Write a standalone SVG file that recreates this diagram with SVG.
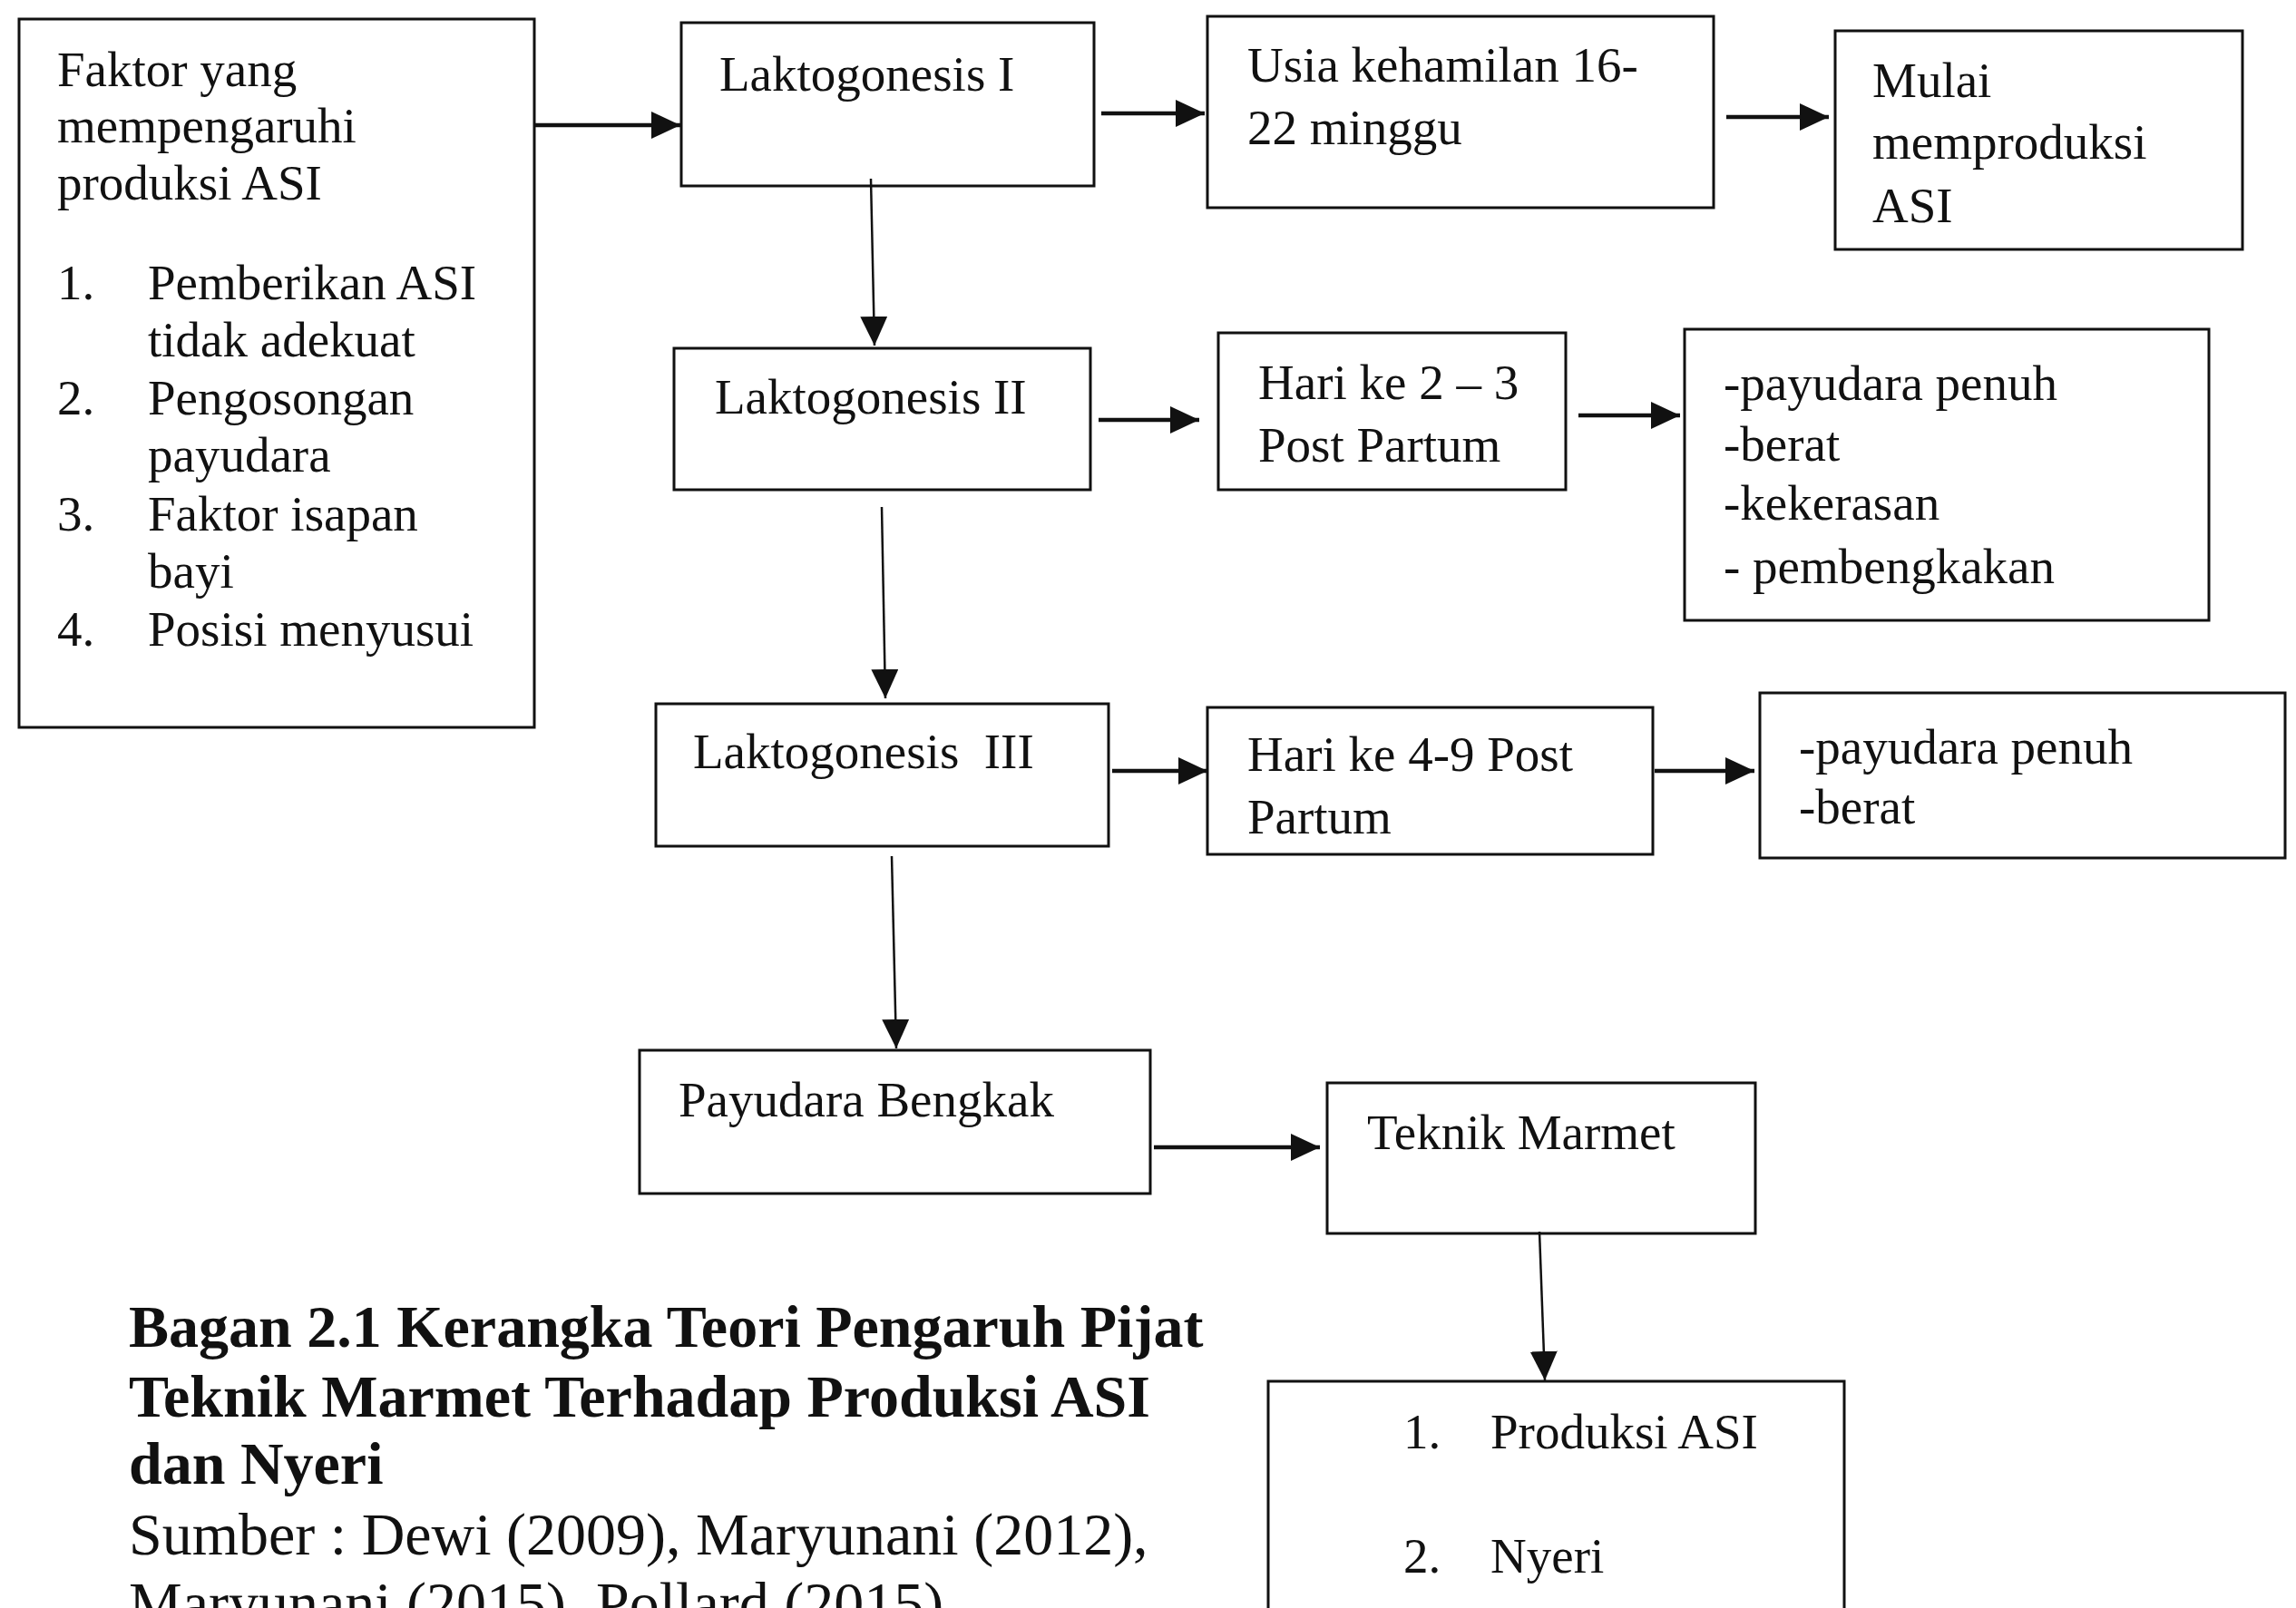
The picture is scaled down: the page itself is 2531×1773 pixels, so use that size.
<svg xmlns="http://www.w3.org/2000/svg" width="2531" height="1773" viewBox="0 0 2531 1773">
<style>
.box{fill:#fff;stroke:#111;stroke-width:3}
.t{font-family:"Liberation Serif","Times New Roman",serif;font-size:55px;fill:#111}
.cap{font-family:"Liberation Serif","Times New Roman",serif;font-size:66px;fill:#111}
.b{font-weight:bold}
.h{stroke:#111;stroke-width:4.5;fill:none}
.v{stroke:#111;stroke-width:2.5;fill:none}
</style>
<defs>
<marker id="ah" markerUnits="userSpaceOnUse" markerWidth="32" markerHeight="30" refX="32" refY="15" orient="auto">
<path d="M0,0 L32,15 L0,30 z" fill="#111"/>
</marker>
</defs>
<rect width="2531" height="1773" fill="#fff"/>
<g id="n-faktor">
<rect class="box" x="21" y="21" width="568" height="781"/>
<text class="t" x="63" y="95">Faktor yang</text>
<text class="t" x="63" y="157">mempengaruhi</text>
<text class="t" x="63" y="220">produksi ASI</text>
<text class="t" x="63" y="330">1.</text><text class="t" x="163" y="330">Pemberikan ASI</text>
<text class="t" x="163" y="393">tidak adekuat</text>
<text class="t" x="63" y="457">2.</text><text class="t" x="163" y="457">Pengosongan</text>
<text class="t" x="163" y="520">payudara</text>
<text class="t" x="63" y="585">3.</text><text class="t" x="163" y="585">Faktor isapan</text>
<text class="t" x="163" y="648">bayi</text>
<text class="t" x="63" y="712">4.</text><text class="t" x="163" y="712">Posisi menyusui</text>
</g>
<g id="n-lakto1">
<rect class="box" x="751" y="25" width="455" height="180"/>
<text class="t" x="793" y="100">Laktogonesis I</text>
</g>
<g id="n-usia">
<rect class="box" x="1331" y="18" width="558" height="211"/>
<text class="t" x="1375" y="90">Usia kehamilan 16-</text>
<text class="t" x="1375" y="159">22 minggu</text>
</g>
<g id="n-mulai">
<rect class="box" x="2023" y="34" width="449" height="241"/>
<text class="t" x="2064" y="107">Mulai</text>
<text class="t" x="2064" y="175">memproduksi</text>
<text class="t" x="2064" y="245">ASI</text>
</g>
<g id="n-lakto2">
<rect class="box" x="743" y="384" width="459" height="156"/>
<text class="t" x="788" y="456">Laktogonesis II</text>
</g>
<g id="n-hari23">
<rect class="box" x="1343" y="367" width="383" height="173"/>
<text class="t" x="1387" y="440">Hari ke 2 – 3</text>
<text class="t" x="1387" y="509">Post Partum</text>
</g>
<g id="n-gejala1">
<rect class="box" x="1857" y="363" width="578" height="321"/>
<text class="t" x="1900" y="441">-payudara penuh</text>
<text class="t" x="1900" y="508">-berat</text>
<text class="t" x="1900" y="573">-kekerasan</text>
<text class="t" x="1900" y="643">- pembengkakan</text>
</g>
<g id="n-lakto3">
<rect class="box" x="723" y="776" width="499" height="157"/>
<text class="t" x="764" y="847" xml:space="preserve">Laktogonesis  III</text>
</g>
<g id="n-hari49">
<rect class="box" x="1331" y="780" width="491" height="162"/>
<text class="t" x="1375" y="850">Hari ke 4-9 Post</text>
<text class="t" x="1375" y="919">Partum</text>
</g>
<g id="n-gejala2">
<rect class="box" x="1940" y="764" width="579" height="182"/>
<text class="t" x="1983" y="842">-payudara penuh</text>
<text class="t" x="1983" y="908">-berat</text>
</g>
<g id="n-bengkak">
<rect class="box" x="705" y="1158" width="563" height="158"/>
<text class="t" x="748" y="1231">Payudara Bengkak</text>
</g>
<g id="n-marmet">
<rect class="box" x="1463" y="1194" width="472" height="166"/>
<text class="t" x="1507" y="1267">Teknik Marmet</text>
</g>
<g id="n-hasil">
<rect class="box" x="1398" y="1523" width="635" height="290"/>
<text class="t" x="1547" y="1597">1.</text><text class="t" x="1643" y="1597">Produksi ASI</text>
<text class="t" x="1547" y="1734">2.</text><text class="t" x="1643" y="1734">Nyeri</text>
</g>
<g id="connectors">
<line class="h" x1="589" y1="138" x2="750" y2="138" marker-end="url(#ah)"/>
<line class="h" x1="1214" y1="125" x2="1328" y2="125" marker-end="url(#ah)"/>
<line class="h" x1="1903" y1="129" x2="2016" y2="129" marker-end="url(#ah)"/>
<line class="v" x1="960" y1="197" x2="964" y2="381" marker-end="url(#ah)"/>
<line class="h" x1="1211" y1="463" x2="1322" y2="463" marker-end="url(#ah)"/>
<line class="h" x1="1740" y1="458" x2="1852" y2="458" marker-end="url(#ah)"/>
<line class="v" x1="972" y1="559" x2="976" y2="770" marker-end="url(#ah)"/>
<line class="h" x1="1226" y1="850" x2="1331" y2="850" marker-end="url(#ah)"/>
<line class="h" x1="1824" y1="850" x2="1934" y2="850" marker-end="url(#ah)"/>
<line class="v" x1="983" y1="944" x2="988" y2="1156" marker-end="url(#ah)"/>
<line class="h" x1="1272" y1="1265" x2="1455" y2="1265" marker-end="url(#ah)"/>
<line class="v" x1="1697" y1="1358" x2="1703" y2="1522" marker-end="url(#ah)"/>
</g>
<g id="caption">
<text class="cap b" x="142" y="1485">Bagan 2.1 Kerangka Teori Pengaruh Pijat</text>
<text class="cap b" x="142" y="1562">Teknik Marmet Terhadap Produksi ASI</text>
<text class="cap b" x="142" y="1636">dan Nyeri</text>
<text class="cap" x="142" y="1714">Sumber : Dewi (2009), Maryunani (2012),</text>
<text class="cap" x="142" y="1790">Maryunani (2015), Pollard (2015)</text>
</g>
</svg>
